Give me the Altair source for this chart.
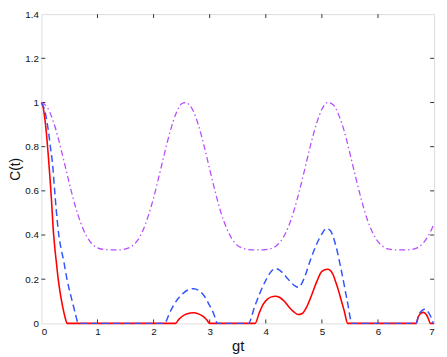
import altair as alt
import pandas as pd

# ---- data ----
red_t = [0.0, 0.03, 0.06, 0.09, 0.12, 0.15, 0.18, 0.21, 0.24, 0.27, 0.30, 0.34, 0.38, 0.42, 0.46,
         2.39, 2.45, 2.5, 2.6, 2.71, 2.8, 2.9, 2.95, 3.0,
         3.81, 3.88, 3.95, 4.03, 4.1, 4.17, 4.25, 4.33, 4.42, 4.5, 4.58, 4.65, 4.73, 4.82, 4.91,
         5.0, 5.1, 5.15, 5.2, 5.25, 5.3, 5.35, 5.4, 5.46,
         6.68, 6.72, 6.76, 6.81, 6.86, 6.9, 6.93, 7.0]
red_c = [1.0, 0.98, 0.93, 0.86, 0.77, 0.67, 0.56, 0.43, 0.34, 0.27, 0.2, 0.13, 0.075, 0.03, 0.0,
         0.0, 0.018, 0.03, 0.044, 0.048, 0.043, 0.028, 0.015, 0.0,
         0.0, 0.045, 0.085, 0.11, 0.12, 0.123, 0.117, 0.1, 0.072, 0.052, 0.04, 0.045, 0.075, 0.13, 0.19,
         0.235, 0.245, 0.24, 0.22, 0.185, 0.145, 0.1, 0.055, 0.0,
         0.0, 0.03, 0.045, 0.05, 0.04, 0.02, 0.0, 0.0]

blue_t = [0.0, 0.04, 0.08, 0.12, 0.16, 0.2, 0.237, 0.27, 0.31, 0.35, 0.4, 0.456, 0.5, 0.55, 0.6, 0.66,
          2.19, 2.3, 2.4, 2.5, 2.6, 2.71, 2.8, 2.9, 3.0, 3.07, 3.14,
          3.69, 3.8, 3.9, 4.0, 4.08, 4.17, 4.25, 4.35, 4.45, 4.52, 4.58, 4.64, 4.7, 4.8, 4.9,
          5.0, 5.08, 5.15, 5.25, 5.35, 5.45, 5.54,
          6.68, 6.72, 6.77, 6.84, 6.9, 6.95, 6.99, 7.0]
blue_c = [1.0, 0.98, 0.94, 0.88, 0.8, 0.72, 0.6, 0.5, 0.4, 0.34, 0.28, 0.2, 0.15, 0.1, 0.05, 0.0,
          0.0, 0.055, 0.1, 0.13, 0.15, 0.157, 0.15, 0.125, 0.08, 0.045, 0.0,
          0.0, 0.075, 0.14, 0.195, 0.23, 0.248, 0.24, 0.215, 0.185, 0.17, 0.163, 0.18, 0.215, 0.29, 0.355,
          0.405, 0.43, 0.42, 0.35, 0.235, 0.105, 0.0,
          0.0, 0.035, 0.055, 0.064, 0.05, 0.025, 0.0, 0.0]

purple_t = [0.0, 0.1, 0.2, 0.3, 0.4, 0.5, 0.6, 0.7, 0.8, 0.9,
            1.0, 1.1, 1.2, 1.3, 1.4, 1.5, 1.6, 1.7, 1.8, 1.9,
            2.0, 2.1, 2.2, 2.3, 2.4, 2.5, 2.57, 2.6, 2.7, 2.8, 2.9,
            3.0, 3.1, 3.2, 3.3, 3.4, 3.5, 3.6, 3.7, 3.8, 3.9,
            4.0, 4.1, 4.2, 4.3, 4.4, 4.5, 4.6, 4.7, 4.8, 4.9,
            5.0, 5.1, 5.2, 5.3, 5.4, 5.5, 5.6, 5.7, 5.8, 5.9,
            6.0, 6.1, 6.2, 6.3, 6.4, 6.5, 6.6, 6.7, 6.8, 6.9, 7.0]
purple_c = [1.0, 0.98, 0.924, 0.839, 0.737, 0.632, 0.535, 0.456, 0.397, 0.361,
            0.342, 0.335, 0.333, 0.333, 0.333, 0.337, 0.347, 0.371, 0.415, 0.482,
            0.568, 0.67, 0.775, 0.873, 0.95, 0.994, 1.0, 0.997, 0.965, 0.897, 0.803,
            0.698, 0.595, 0.502, 0.432, 0.381, 0.352, 0.339, 0.334, 0.333, 0.333,
            0.334, 0.339, 0.354, 0.384, 0.436, 0.509, 0.601, 0.704, 0.809, 0.901,
            0.969, 1.0, 0.99, 0.943, 0.869, 0.769, 0.664, 0.564, 0.477, 0.413,
            0.37, 0.346, 0.336, 0.333, 0.333, 0.333, 0.335, 0.342, 0.362, 0.398, 0.45]

x_ticks = [0, 1, 2, 3, 4, 5, 6, 7]
y_ticks = [0, 0.2, 0.4, 0.6, 0.8, 1.0, 1.2, 1.4]

W, H = 400, 315
FONT = "Liberation Sans"

x_scale = alt.Scale(domain=[0, 7], nice=False, zero=False)
y_scale = alt.Scale(domain=[0, 1.4], nice=False)

x_axis = alt.Axis(values=x_ticks, format="~g", title="gt", tickSize=0, domain=False, grid=False,
                  labelPadding=3, labelFontSize=10, titleFontSize=15, titleFontWeight="normal",
                  titlePadding=3, labelFont=FONT, titleFont=FONT, labelColor="#111", titleColor="#111")
y_axis = alt.Axis(values=y_ticks, format="~g", title="C(t)", tickSize=0, domain=False, grid=False,
                  labelPadding=3, labelFontSize=10, titleFontSize=14, titleFontWeight="normal",
                  titlePadding=2, labelFont=FONT, titleFont=FONT, labelColor="#111", titleColor="#111")

def line(t, c, **style):
    df = pd.DataFrame({"t": t, "c": c})
    return alt.Chart(df).mark_line(interpolate="monotone", **style).encode(
        x=alt.X("t:Q", scale=x_scale, axis=x_axis),
        y=alt.Y("c:Q", scale=y_scale, axis=y_axis),
    )

red = line(red_t, red_c, color="#ff0000", strokeWidth=1.6)
blue = line(blue_t, blue_c, color="#3355ff", strokeWidth=1.5, strokeDash=[7, 4])
purple = line(purple_t, purple_c, color="#b84dff", strokeWidth=1.3, strokeDash=[6, 3, 1.5, 3])

inner_x = pd.DataFrame({"v": x_ticks[1:-1]})
inner_y = pd.DataFrame({"v": y_ticks[1:-1]})
TL = 4
tick_style = dict(color="#333", strokeWidth=1)

xb = alt.Chart(inner_x).mark_rule(**tick_style).encode(
    x=alt.X("v:Q", scale=x_scale, axis=x_axis), y=alt.value(H), y2=alt.value(H - TL))
xt = alt.Chart(inner_x).mark_rule(**tick_style).encode(
    x=alt.X("v:Q", scale=x_scale, axis=x_axis), y=alt.value(0), y2=alt.value(TL))
yl = alt.Chart(inner_y).mark_rule(**tick_style).encode(
    y=alt.Y("v:Q", scale=y_scale, axis=y_axis), x=alt.value(0), x2=alt.value(TL))
yr = alt.Chart(inner_y).mark_rule(**tick_style).encode(
    y=alt.Y("v:Q", scale=y_scale, axis=y_axis), x=alt.value(W - TL), x2=alt.value(W))

chart = alt.layer(xb, xt, yl, yr, red, blue, purple).properties(
    width=W, height=H,
    autosize=alt.AutoSizeParams(type="none"),
    padding={"left": 34, "top": 3, "right": 5, "bottom": 31},
).configure_view(stroke="#222", strokeWidth=1).configure(background="white")

chart.save("out.html", embed_options={"renderer": "svg", "actions": False})
